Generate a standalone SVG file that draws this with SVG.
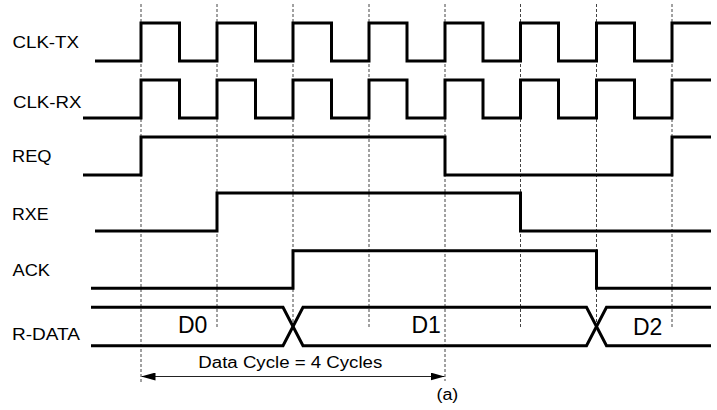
<svg xmlns="http://www.w3.org/2000/svg" width="717" height="410" viewBox="0 0 717 410">
<defs>
<style>
.sig{fill:none;stroke:#000;stroke-width:3;stroke-linejoin:miter;stroke-linecap:butt}
.grid{stroke:#444;stroke-width:1;stroke-dasharray:3,2;fill:none}
.lbl{font-family:"Liberation Sans",Arial,sans-serif;font-size:16px;fill:#000}
.dat{font-family:"Liberation Sans",Arial,sans-serif;font-size:23px;fill:#000}
.arr{stroke:#222;stroke-width:1;fill:none}
</style>
<marker id="ah" viewBox="0 0 14 8" refX="14" refY="4" markerWidth="14" markerHeight="8" markerUnits="userSpaceOnUse" orient="auto-start-reverse">
<path d="M0,0 L14,4 L0,8 Z" fill="#000"/>
</marker>
</defs>
<rect width="717" height="410" fill="#fff"/>
<g id="grid">
<line class="grid" x1="141" y1="4" x2="141" y2="384"/>
<line class="grid" x1="217" y1="4" x2="217" y2="327"/>
<line class="grid" x1="293" y1="4" x2="293" y2="327"/>
<line class="grid" x1="369" y1="4" x2="369" y2="327"/>
<line class="grid" x1="445" y1="4" x2="445" y2="381"/>
<line class="grid" x1="520.5" y1="4" x2="520.5" y2="327"/>
<line class="grid" x1="596.5" y1="4" x2="596.5" y2="327"/>
<line class="grid" x1="672" y1="4" x2="672" y2="327"/>
</g>
<g id="clk-tx">
<text class="lbl" x="12.5" y="48.3" textLength="66.5" lengthAdjust="spacingAndGlyphs">CLK-TX</text>
<polyline class="sig" points="95,61 141,61 141,23 179.5,23 179.5,61 217,61 217,23 255.5,23 255.5,61 293,61 293,23 331.5,23 331.5,61 369,61 369,23 407,23 407,61 445,61 445,23 483,23 483,61 520.5,61 520.5,23 558.5,23 558.5,61 596.5,61 596.5,23 634.5,23 634.5,61 672,61 672,23 711,23"/>
</g>
<g id="clk-rx">
<text class="lbl" x="13" y="108.3" textLength="68.5" lengthAdjust="spacingAndGlyphs">CLK-RX</text>
<polyline class="sig" points="83,118 141,118 141,80 179.5,80 179.5,118 217,118 217,80 255.5,80 255.5,118 293,118 293,80 331.5,80 331.5,118 369,118 369,80 407,80 407,118 445,118 445,80 483,80 483,118 520.5,118 520.5,80 558.5,80 558.5,118 596.5,118 596.5,80 634.5,80 634.5,118 672,118 672,80 711,80"/>
</g>
<g id="req">
<text class="lbl" x="12" y="161.5" textLength="39.5" lengthAdjust="spacingAndGlyphs">REQ</text>
<polyline class="sig" points="83,175 141,175 141,137 445,137 445,175 672,175 672,137 711,137"/>
</g>
<g id="rxe">
<text class="lbl" x="12" y="219.8" textLength="36.5" lengthAdjust="spacingAndGlyphs">RXE</text>
<polyline class="sig" points="95,231 217,231 217,193 520.5,193 520.5,231 711,231"/>
</g>
<g id="ack">
<text class="lbl" x="12.5" y="276.3" textLength="37.5" lengthAdjust="spacingAndGlyphs">ACK</text>
<polyline class="sig" points="91,288.3 293,288.3 293,250.7 596.5,250.7 596.5,288.3 711,288.3"/>
</g>
<g id="r-data">
<text class="lbl" x="12" y="340.3" textLength="68" lengthAdjust="spacingAndGlyphs">R-DATA</text>
<polyline class="sig" points="91,307.3 283,307.3 303,345.7 586.5,345.7 606.5,307.3 711,307.3"/>
<polyline class="sig" points="91,345.7 283,345.7 303,307.3 586.5,307.3 606.5,345.7 711,345.7"/>
<text class="dat" x="178" y="333.3">D0</text>
<text class="dat" x="411.5" y="333.3">D1</text>
<text class="dat" x="633" y="334.5">D2</text>
</g>
<g id="connectors">
<line class="arr" x1="141.5" y1="376.5" x2="444.5" y2="376.5" marker-start="url(#ah)" marker-end="url(#ah)"/>
<text class="lbl" x="198.3" y="368.3" textLength="184" lengthAdjust="spacingAndGlyphs">Data Cycle = 4 Cycles</text>
<text class="lbl" x="436.5" y="400" textLength="21.8" lengthAdjust="spacingAndGlyphs">(a)</text>
</g>
</svg>
